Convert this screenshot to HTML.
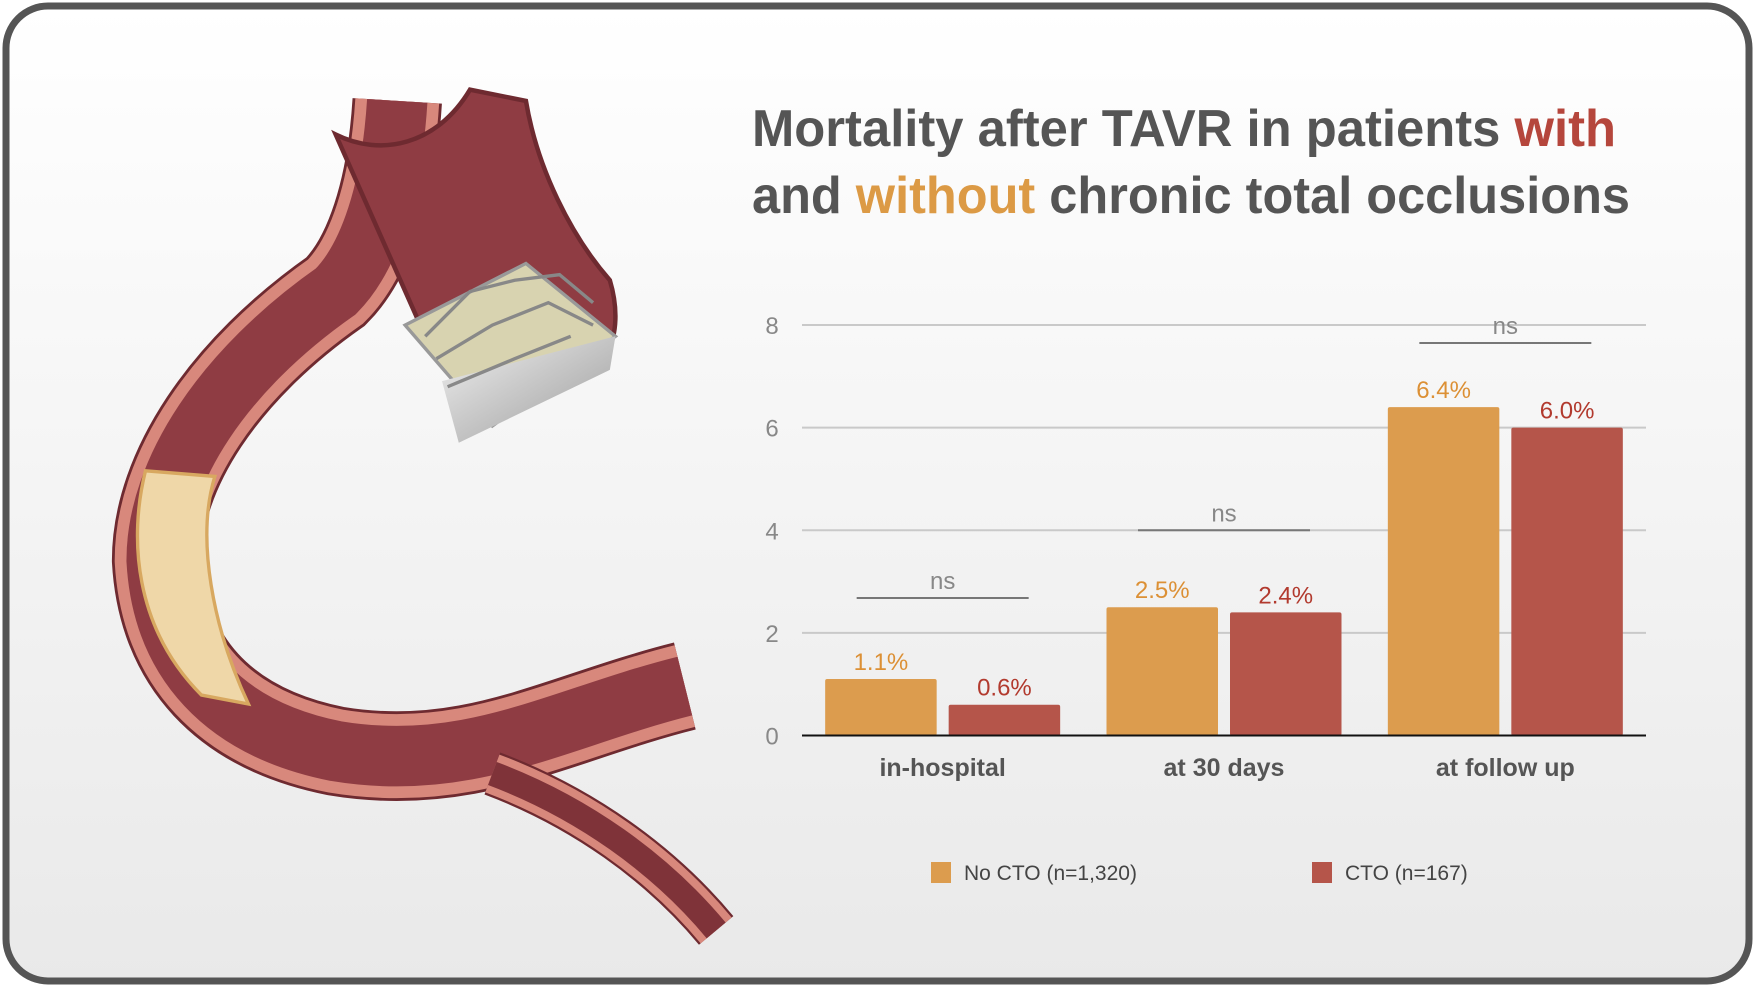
<!DOCTYPE html>
<html><head><meta charset="utf-8"><style>
html,body{margin:0;padding:0;width:1755px;height:987px;overflow:hidden;background:#fff}
svg{display:block}
text{font-family:"Liberation Sans",sans-serif}
</style></head><body>
<svg width="1755" height="987" viewBox="0 0 1755 987">
<defs>
<linearGradient id="bg" x1="0" y1="0" x2="0" y2="1"><stop offset="0" stop-color="#ffffff"/><stop offset="1" stop-color="#e9e9e9"/></linearGradient>
<linearGradient id="metal" x1="0" y1="0" x2="1" y2="1"><stop offset="0" stop-color="#f0f0f0"/><stop offset="1" stop-color="#9a9a9a"/></linearGradient>
</defs>
<rect x="6" y="6" width="1743" height="975" rx="42" fill="url(#bg)" stroke="#555" stroke-width="7"/>
<g transform="scale(1.119,1.121)">
  <path d="M355,90 C350,170 330,230 300,260 C200,330 140,420 140,500 C145,590 200,650 300,670 C420,690 500,640 612,612" fill="none" stroke="#6e2a30" stroke-width="80" stroke-linecap="butt"/>
  <path d="M355,90 C350,170 330,230 300,260 C200,330 140,420 140,500 C145,590 200,650 300,670 C420,690 500,640 612,612" fill="none" stroke="#d8887c" stroke-width="75"/>
  <path d="M355,90 C350,170 330,230 300,260 C200,330 140,420 140,500 C145,590 200,650 300,670 C420,690 500,640 612,612" fill="none" stroke="#8f3c43" stroke-width="54"/>
  <path d="M440,690 C520,720 590,770 640,830" fill="none" stroke="#6e2a30" stroke-width="40"/>
  <path d="M440,690 C520,720 590,770 640,830" fill="none" stroke="#d8887c" stroke-width="36"/>
  <path d="M440,690 C520,720 590,770 640,830" fill="none" stroke="#7f3339" stroke-width="22"/>
  <path d="M300,120 C340,140 390,130 420,80 L470,90 C480,150 510,210 545,250 C560,300 540,340 500,340 L380,300 Z" fill="#8f3c43" stroke="#6e2a30" stroke-width="4"/>
  <path d="M130,420 C115,480 120,560 180,620 L222,628 C190,560 175,480 192,425 Z" fill="#efd7a8" stroke="#d8a860" stroke-width="3"/>
  <g>
    <path d="M362,290 L470,235 L550,300 L440,380 Z" fill="#d8d3b0" stroke="#999" stroke-width="3"/>
    <path d="M395,340 L550,300 L545,330 L410,395 Z" fill="url(#metal)"/>
    <path d="M380,300 L420,260 L460,250 L500,245 L530,270 M390,320 L440,290 L490,270 L530,290 M400,345 L460,320 L510,300" fill="none" stroke="#888" stroke-width="3"/>
  </g>
</g>
<g font-weight="bold" font-size="52" fill="#555">
  <text x="752" y="146" textLength="864" lengthAdjust="spacingAndGlyphs">Mortality after TAVR in patients <tspan fill="#b5463c">with</tspan></text>
  <text x="752" y="213" textLength="878" lengthAdjust="spacingAndGlyphs">and <tspan fill="#dc9a45">without</tspan> chronic total occlusions</text>
</g>
<g id="chart"></g>
<script>
const categories = ["in-hospital", "at 30 days", "at follow up"];
const noCto = [1.1, 2.5, 6.4];
const cto = [0.6, 2.4, 6.0];
const nsLevels = [2.68, 4.0, 7.65];
const yTicks = [0, 2, 4, 6, 8];
const seriesNames = ["No CTO (n=1,320)", "CTO (n=167)"];

const NS = "http://www.w3.org/2000/svg";
const g = document.getElementById("chart");
const x0 = 802, x1 = 1646, yBase = 735.5, yTop = 325, yMax = 8;
const y = v => yBase - (v / yMax) * (yBase - yTop);
const bandW = (x1 - x0) / categories.length;
const bandX = i => x0 + bandW * i;
function el(tag, attrs, txt) {
  const e = document.createElementNS(NS, tag);
  for (const k in attrs) e.setAttribute(k, attrs[k]);
  if (txt !== undefined) e.textContent = txt;
  g.appendChild(e);
  return e;
}
yTicks.forEach(t => {
  if (t > 0) {
    const l = el("line", {x1: x0, x2: x1, y1: y(t), y2: y(t), stroke: "#c9c9c9", "stroke-width": 2});
    
    
  }
  const tx = el("text", {x: 772, y: y(t) + 9, "text-anchor": "middle", "font-size": 24, fill: "#888"}, t);
  
  
});
const barW = 111.5, gap = 12;
categories.forEach((c, i) => {
  const cx = bandX(i) + bandW / 2;
  const vals = [noCto[i], cto[i]];
  const fills = ["#dc9c4e", "#b5554a"];
  const tcol = ["#dc9035", "#b23a2e"];
  vals.forEach((v, j) => {
    const bx = cx - barW - gap / 2 + j * (barW + gap);
    const r = el("rect", {x: bx, y: y(v), width: barW, height: yBase - y(v), fill: fills[j], rx: 2});
    
    
    const lb = el("text", {x: bx + barW / 2, y: y(v) - 9, "text-anchor": "middle", "font-size": 24, fill: tcol[j]}, v.toFixed(1) + "%");
    
    
  });
  const top = y(nsLevels[i]);
  const nl = el("line", {x1: cx - 86, x2: cx + 86, y1: top, y2: top, stroke: "#777", "stroke-width": 2});
  
  
  const nt = el("text", {x: cx, y: top - 9, "text-anchor": "middle", "font-size": 24, fill: "#888"}, "ns");
  
  
  const cl = el("text", {x: cx, y: 776, "text-anchor": "middle", "font-size": 25, "font-weight": "bold", fill: "#555"}, c);
  
  
});
const ax = el("line", {x1: x0, x2: x1, y1: yBase, y2: yBase, stroke: "#111", "stroke-width": 2});


const legX = [931, 1312], legC = ["#dc9c4e", "#b5554a"];
seriesNames.forEach((s, j) => {
  const sq = el("rect", {x: legX[j], y: 862, width: 20, height: 21, fill: legC[j]});
  
  
  const lt = el("text", {x: legX[j] + 33, y: 880, "font-size": 21, fill: "#444"}, s);
  
  
});
</script>
</svg>
</body></html>
